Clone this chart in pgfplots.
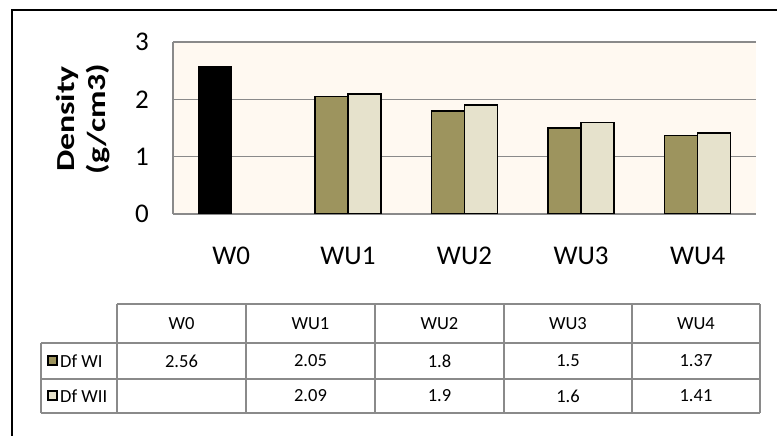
\documentclass[border=0pt]{standalone}
\usepackage{pgfplots}
\pgfplotsset{compat=1.18}
\usepackage{fontspec}
\setmainfont{Carlito}
\definecolor{olivebar}{RGB}{157,148,94}
\definecolor{creambar}{RGB}{230,226,204}
\definecolor{bgc}{RGB}{255,249,241}
\definecolor{gridc}{RGB}{138,138,138}
\begin{document}
\begin{tikzpicture}[x=1bp,y=1bp]
\useasboundingbox (0,0) rectangle (777,436);
\begin{scope}
\clip (0,0) rectangle (777,436);
\draw[line width=2bp] (12,-5) -- (12,426) -- (800,426);
\end{scope}
\begin{axis}[
  at={(173bp,222bp)}, anchor=south west,
  scale only axis, width=583bp, height=172bp,
  xmin=-0.5, xmax=4.5, ymin=0, ymax=3,
  ytick={0,1,2,3},
  xtick={0,1,2,3,4},
  xticklabels={W0,WU1,WU2,WU3,WU4},
  axis x line*=bottom, axis y line*=left,
  axis line style={draw=gridc, line width=1.6bp, -},
  major tick length=0pt,
  ymajorgrids, grid style={draw=gridc, line width=1.6bp},
  axis background/.style={fill=bgc},
  ticklabel style={font=\fontsize{27bp}{30bp}\selectfont},
  /pgf/number format/assume math mode=true,
  yticklabel style={inner sep=0pt, xshift=-24bp},
  xticklabel style={inner sep=0pt, yshift=-33bp},
  ybar, bar width=33bp,
  every axis plot/.append style={draw=black, line width=1.5bp},
]
\addplot[fill=black, bar shift=-16.5bp] coordinates {(0,2.56)};
\addplot[fill=olivebar, bar shift=-16.5bp] coordinates {(1,2.05) (2,1.8) (3,1.5) (4,1.37)};
\addplot[fill=creambar, bar shift=16.5bp] coordinates {(1,2.09) (2,1.9) (3,1.6) (4,1.41)};
\end{axis}
\node[rotate=90, xscale=1.3, align=center, font=\bfseries\fontsize{26bp}{31bp}\selectfont] at (83.5,317) {Density\\(g/cm3)};
% data table
\begin{scope}[gridc, line width=1.8bp]
\draw (117,132) -- (760,132);
\draw (41,93) -- (760,93);
\draw (41,57) -- (760,57);
\draw (41,23) -- (760,23);
\draw (41,23) -- (41,93);
\foreach \xx in {117,246,375,504,632,760} {\draw (\xx,23) -- (\xx,132);}
\end{scope}
\begin{scope}[every node/.style={font=\fontsize{18.5bp}{21bp}\selectfont, inner sep=0pt}]
\node at (181.5,112.5) {W0};
\node at (310.5,112.5) {WU1};
\node at (439.5,112.5) {WU2};
\node at (568,112.5) {WU3};
\node at (696,112.5) {WU4};
\node at (181.5,75) {2.56};
\node at (310.5,75) {2.05};
\node at (439.5,75) {1.8};
\node at (568,75) {1.5};
\node at (696,75) {1.37};
\node at (310.5,40) {2.09};
\node at (439.5,40) {1.9};
\node at (568,40) {1.6};
\node at (696,40) {1.41};
\node[anchor=west] at (60,75) {Df WI};
\node[anchor=west] at (60,40) {Df WII};
\end{scope}
\draw[fill=olivebar, line width=1.4bp] (48,71) rectangle (57,80);
\draw[fill=creambar, line width=1.4bp] (48,36) rectangle (57,45);
\end{tikzpicture}
\end{document}
